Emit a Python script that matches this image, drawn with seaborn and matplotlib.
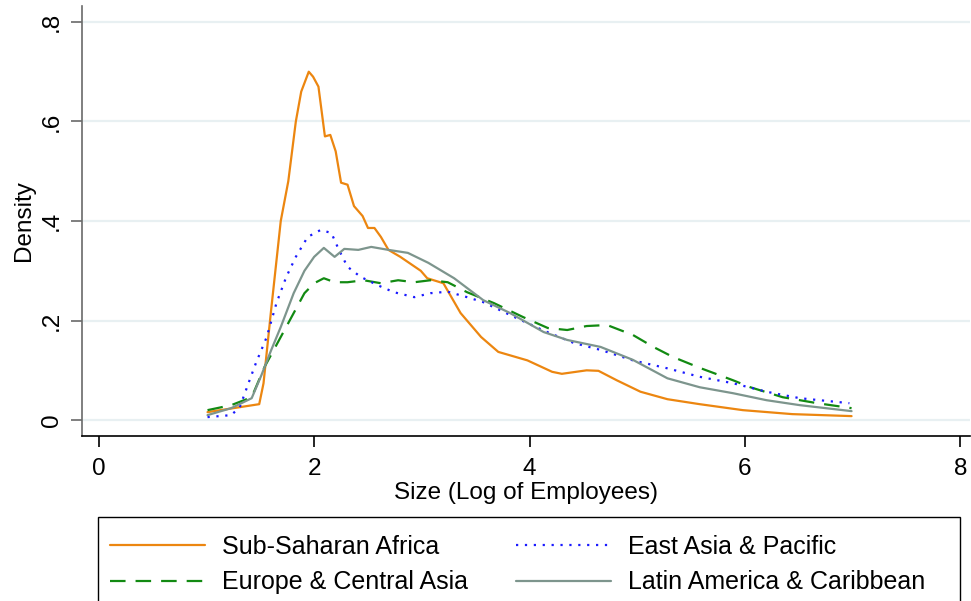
import matplotlib
matplotlib.use("Agg")
import matplotlib.pyplot as plt
from matplotlib.patches import Rectangle
import seaborn as sns
import pandas as pd

# values (x = log employees, y = density)
ssa_x = [1.01, 1.49, 1.53, 1.60, 1.69, 1.76, 1.83, 1.88, 1.95, 1.99, 2.04, 2.10, 2.15, 2.20,
         2.25, 2.31, 2.37, 2.45, 2.50, 2.56, 2.62, 2.69, 2.80, 2.99, 3.05, 3.20, 3.36, 3.55,
         3.71, 3.98, 4.21, 4.30, 4.53, 4.64, 4.81, 5.03, 5.28, 5.58, 5.98, 6.44, 6.99]
ssa_y = [0.016, 0.032, 0.074, 0.220, 0.400, 0.480, 0.600, 0.660, 0.700, 0.690, 0.670, 0.570,
         0.573, 0.540, 0.477, 0.473, 0.430, 0.410, 0.386, 0.386, 0.368, 0.342, 0.328, 0.300,
         0.285, 0.275, 0.215, 0.167, 0.137, 0.120, 0.097, 0.093, 0.100, 0.099, 0.080, 0.057,
         0.042, 0.032, 0.020, 0.012, 0.008]

eap_x = [1.01, 1.23, 1.31, 1.39, 1.46, 1.56, 1.65, 1.74, 1.83, 1.94, 2.06, 2.16, 2.23, 2.31,
         2.43, 2.59, 2.74, 2.93, 3.08, 3.24, 3.42, 3.57, 3.85, 4.13, 4.41, 4.66, 4.96, 5.28,
         5.58, 5.89, 6.20, 6.51, 6.97]
eap_y = [0.006, 0.010, 0.026, 0.074, 0.115, 0.167, 0.235, 0.287, 0.328, 0.368, 0.382, 0.376,
         0.342, 0.308, 0.288, 0.271, 0.257, 0.247, 0.255, 0.258, 0.247, 0.237, 0.208, 0.180,
         0.155, 0.141, 0.120, 0.104, 0.087, 0.074, 0.057, 0.044, 0.034]

eca_x = [1.01, 1.23, 1.42, 1.54, 1.66, 1.79, 1.91, 2.00, 2.09, 2.19, 2.31, 2.46, 2.62, 2.78,
         2.93, 3.08, 3.24, 3.42, 3.67, 3.94, 4.17, 4.35, 4.53, 4.72, 4.96, 5.15, 5.33, 5.58,
         5.89, 6.05, 6.35, 6.67, 6.99]
eca_y = [0.020, 0.030, 0.046, 0.107, 0.155, 0.207, 0.255, 0.275, 0.285, 0.277, 0.277, 0.281,
         0.275, 0.281, 0.277, 0.281, 0.277, 0.257, 0.235, 0.207, 0.185, 0.181, 0.189, 0.191,
         0.171, 0.147, 0.127, 0.105, 0.080, 0.066, 0.046, 0.034, 0.024]

lac_x = [1.01, 1.23, 1.42, 1.51, 1.60, 1.69, 1.81, 1.91, 2.00, 2.09, 2.19, 2.28, 2.41, 2.53,
         2.69, 2.87, 3.06, 3.30, 3.57, 3.82, 4.13, 4.35, 4.66, 4.96, 5.28, 5.58, 5.89, 6.20,
         6.51, 6.99]
lac_y = [0.010, 0.024, 0.044, 0.090, 0.140, 0.187, 0.255, 0.300, 0.328, 0.346, 0.328, 0.344,
         0.342, 0.348, 0.342, 0.336, 0.316, 0.285, 0.241, 0.215, 0.177, 0.161, 0.147, 0.121,
         0.084, 0.066, 0.054, 0.040, 0.030, 0.018]

regions = ["Sub-Saharan Africa", "Europe & Central Asia",
           "East Asia & Pacific", "Latin America & Caribbean"]
y_ticks = [0, 0.2, 0.4, 0.6, 0.8]
y_tick_labels = ["0", ".2", ".4", ".6", ".8"]
x_ticks = [0, 2, 4, 6, 8]

sns.set_style("white")
plt.rcParams["font.family"] = ["Liberation Sans", "DejaVu Sans"]
plt.rcParams["text.color"] = "black"
plt.rcParams["axes.labelcolor"] = "black"
plt.rcParams["xtick.labelcolor"] = "black"
plt.rcParams["ytick.labelcolor"] = "black"

fig = plt.figure(figsize=(9.71, 6.01), dpi=100)
ax = fig.add_axes([0.0845, 0.2745, 0.9145, 0.7155])

series = [
    (regions[0], ssa_x, ssa_y, "#ec8610", "-"),
    (regions[1], eca_x, eca_y, "#128a12", (0, (7, 4.5))),
    (regions[2], eap_x, eap_y, "#1a1aff", (0, (1, 3))),
    (regions[3], lac_x, lac_y, "#7d958d", "-"),
]
for name, xs, ys, col, ls in series:
    df = pd.DataFrame({"x": xs, "y": ys})
    sns.lineplot(data=df, x="x", y="y", ax=ax, color=col, linestyle=ls,
                 linewidth=1.6, label=name, sort=False)

ax.set_xlim(-0.155, 8.09)
ax.set_ylim(-0.032, 0.832)
ax.set_xticks(x_ticks)
ax.set_yticks(y_ticks)
ax.set_yticklabels(y_tick_labels, rotation=90, va="center")
ax.grid(axis="y", color="#e8f0f2", linewidth=1.6)
ax.grid(axis="x", visible=False)

for s in ["top", "right"]:
    ax.spines[s].set_visible(False)
ax.spines["left"].set_color("#6a6a6a")
ax.spines["left"].set_linewidth(1.2)
ax.spines["bottom"].set_color("black")
ax.spines["bottom"].set_linewidth(1.2)

ax.tick_params(axis="y", length=8, width=1.2, color="#6a6a6a", labelsize=17.5, pad=6,
               left=True)
ax.tick_params(axis="x", length=8, width=1.2, color="black", labelsize=17.5, pad=8,
               bottom=True)

ax.set_xlabel("Size (Log of Employees)", fontsize=17.5, labelpad=1)
ax.set_ylabel("Density", fontsize=17.5, labelpad=4)

# legend without its own frame; the box is drawn separately (Stata-like wide box)
ax.get_legend().remove()
handles, labels = ax.get_legend_handles_labels()
fig.legend(handles, labels, ncol=2, loc="upper left",
           bbox_to_anchor=(0.1133, 0.1098), borderaxespad=0, borderpad=0,
           fontsize=18, frameon=False, handlelength=3.8, handletextpad=0.68,
           columnspacing=1.92, labelspacing=0.45)
fig.patches.append(Rectangle((0.1009, -0.01), 0.8877, 0.1498, transform=fig.transFigure,
                             fill=False, edgecolor="black", linewidth=1.0))

fig.savefig("out.png", dpi=100)
